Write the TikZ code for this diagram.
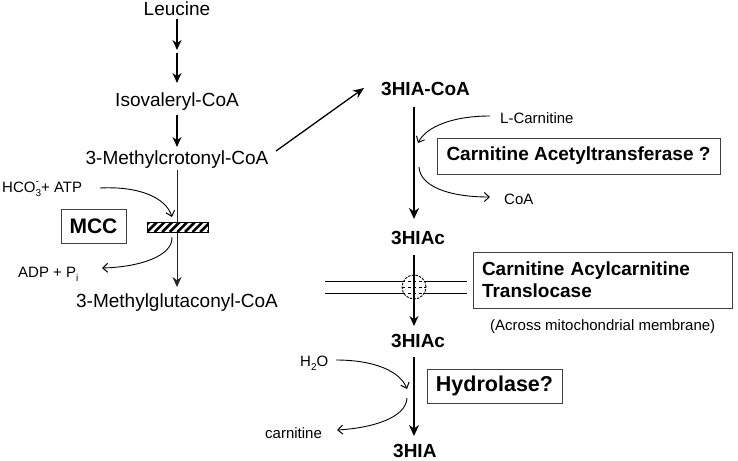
\documentclass[tikz,border=0pt]{standalone}
\usepackage{fontspec}
\setmainfont{Liberation Sans}
\usetikzlibrary{arrows.meta}
\newcommand{\lsub}[1]{\raisebox{-0.28em}{\fontsize{10}{10}\selectfont #1}}
\newcommand{\lsup}[1]{\raisebox{0.5em}{\fontsize{10}{10}\selectfont #1}}
\begin{document}
\begin{tikzpicture}[x=1pt,y=-1pt,
  lbl/.style={font=\fontsize{19}{22}\selectfont, inner sep=0pt},
  blbl/.style={font=\bfseries\fontsize{19}{22}\selectfont, inner sep=0pt},
  sml/.style={font=\fontsize{15}{18}\selectfont, inner sep=0pt},
  ebox/.style={draw=black!75, line width=0.9pt, inner sep=0pt},
  arr/.style={-{Stealth[length=10pt,width=9pt]}, line width=1.1pt},
  bigarr/.style={-{Stealth[length=11pt,width=10pt]}, line width=2pt},
  curv/.style={-{Straight Barb[length=5pt,width=9pt,line width=1pt]}, line width=0.9pt},
  memb/.style={line width=1pt}
]
\useasboundingbox (0,0) rectangle (738,460);

% ---- left chain
\node[lbl,anchor=base] (leu) at (177,16) {Leucine};
\node[lbl,anchor=base] (iso) at (177,106) {Isovaleryl-CoA};
\node[lbl,anchor=base] (mcr) at (177,164) {3-Methylcrotonyl-CoA};
\node[lbl,anchor=base] (mgc) at (177,307) {3-Methylglutaconyl-CoA};

\coordinate (a1s) at (177,19);  \coordinate (a1e) at (177,50);
\coordinate (a2s) at (177,53);  \coordinate (a2e) at (177,83);
\coordinate (a3s) at (177,115); \coordinate (a3e) at (177,147);
\coordinate (a4s) at (177,170); \coordinate (a4e) at (177,287);
\draw[arr] (a1s) -- (a1e);
\draw[arr] (a2s) -- (a2e);
\draw[arr] (a3s) -- (a3e);
\draw[-{Stealth[length=10pt,width=9pt]}, line width=0.9pt, black!85] (a4s) -- (a4e);

% MCC
\node[ebox, minimum width=65pt, minimum height=34pt, font=\bfseries\fontsize{21}{24}\selectfont] (mcc) at (93.5,226) {MCC};
\node[draw, line width=1pt, minimum width=61pt, minimum height=10pt, inner sep=0pt, fill=white,
  path picture={\foreach \i in {-2,...,9}
     \draw[line width=2.6pt] ([xshift=\i*7.6pt]path picture bounding box.south west) -- ++(11pt,11pt);}]
  (hatch) at (177.5,227) {};

\node[sml,anchor=base west] (hco) at (2,192) {HCO\rlap{\lsup{-}}\lsub{3}+ ATP};
\node[sml,anchor=base west] (adp) at (18,277) {ADP + P\lsub{i}};
\coordinate (h1) at (100,188); \coordinate (h2) at (172,217);
\coordinate (d1) at (172,237); \coordinate (d2) at (102,268);
\draw[curv] (h1) .. controls (140,186) and (166,198) .. (h2);
\draw[curv] (d1) .. controls (173,256) and (140,267) .. (d2);

% ---- right chain
\node[blbl,anchor=base west] (hiacoa) at (381,95) {3HIA-CoA};
\node[blbl,anchor=base west] (hiac1) at (391,244) {3HIAc};
\node[blbl,anchor=base west] (hiac2) at (391,347) {3HIAc};
\node[blbl,anchor=base west] (hia) at (393,457) {3HIA};

\coordinate (x1) at (276,151); \coordinate (x2) at (364,88);
\draw[-{Stealth[length=11pt,width=9pt]}, line width=1.3pt] (x1) -- (x2);

% membrane
\coordinate (ml1) at (325,281); \coordinate (mr1) at (467,281);
\coordinate (ml2) at (325,293); \coordinate (mr2) at (467,293);
\draw[memb] (ml1) -- (mr1);
\draw[memb] (ml2) -- (mr2);
\coordinate (pore) at (414,287);
\fill[white] (pore) circle (12pt);
\begin{scope}
  \clip (pore) circle (12pt);
  \draw[line width=0.9pt, dash pattern=on 3pt off 2.5pt] (402,281) -- (426,281);
  \draw[line width=0.9pt, dash pattern=on 3pt off 2.5pt] (402,287) -- (426,287);
  \draw[line width=0.9pt, dash pattern=on 3pt off 2.5pt] (402,293) -- (426,293);
\end{scope}
\draw[line width=0.9pt, dash pattern=on 2.5pt off 1.2pt] (pore) circle (12pt);

\coordinate (s1) at (414,107); \coordinate (s2) at (414,219);
\coordinate (s3) at (414,255); \coordinate (s4) at (414,326);
\coordinate (s5) at (414,357); \coordinate (s6) at (414,436);
\draw[bigarr] (s1) -- (s2);
\draw[-{Stealth[length=10pt,width=9pt]}, line width=1.2pt] (s3) -- (s4);
\draw[bigarr] (s5) -- (s6);

% side reactions
\node[sml,anchor=base west] (lcar) at (500,123) {L-Carnitine};
\node[sml,anchor=base west] (coa) at (504,204) {CoA};
\coordinate (k1) at (490,116); \coordinate (k2) at (418,143);
\coordinate (k3) at (419,167); \coordinate (k4) at (490,197);
\draw[curv] (k1) .. controls (452,116) and (426,127) .. (k2);
\draw[curv] (k3) .. controls (420,186) and (448,197) .. (k4);

\node[sml,anchor=base west] (h2o) at (300,366) {H\lsub{2}O};
\node[sml,anchor=base west] (car) at (265,438) {carnitine};
\coordinate (w1) at (336,360); \coordinate (w2) at (407,389);
\coordinate (w3) at (407,398); \coordinate (w4) at (337,430);
\draw[curv] (w1) .. controls (374,360) and (400,371) .. (w2);
\draw[curv] (w3) .. controls (406,418) and (372,428) .. (w4);

% enzyme boxes
\node[ebox, blbl, minimum width=283pt, minimum height=36pt] (cat) at (578.5,156) {Carnitine Acetyltransferase ?};
\node[ebox, blbl, minimum width=259pt, minimum height=56pt, text width=241pt, align=left] (cact) at (602.5,280)
  {Carnitine Acylcarnitine\\Translocase};
\node[sml,anchor=base west] (acr) at (490,330) {(Across mitochondrial membrane)};
\node[ebox, minimum width=135pt, minimum height=34pt, font=\bfseries\fontsize{21.5}{24}\selectfont] (hyd) at (494.5,386) {Hydrolase?};
\end{tikzpicture}
\end{document}
